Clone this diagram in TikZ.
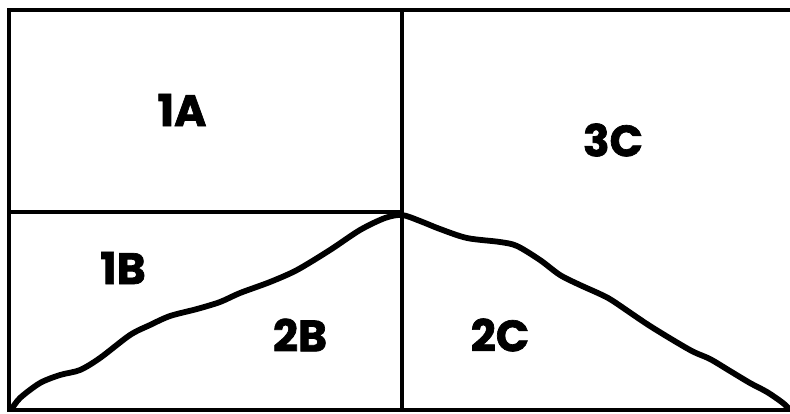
\documentclass[tikz,border=0pt]{standalone}
\usepackage{fontspec}
\setmainfont{Poppins}
\newfontfamily\zonefont{Poppins}[BoldFeatures={FakeBold=1.6}]
\begin{document}
\begin{tikzpicture}[x=0.02cm,y=-0.02cm,line width=2.3pt]
  \tikzset{zone/.style={font=\zonefont\bfseries\fontsize{25}{25}\selectfont}}
  \useasboundingbox (0,0) rectangle (790,413);
  \draw (790,10) -- (9,10) -- (9,410) -- (790,410);
  \draw (9,212) -- (402,212);
  \draw (402,10) -- (402,410);
  \draw[line width=3.3pt,line join=round] plot[smooth] coordinates {
    (11,410) (20,398) (40,383) (60,375) (80,370) (100,358) (130,335)
    (150,325) (170,316) (197,309) (220,302) (240,293) (270,282) (297,270)
    (330,250) (360,230) (385,218) (402,215) (420,221) (440,229) (467,238)
    (500,242) (517,246) (540,260) (560,275) (580,285) (600,294) (613,301)
    (650,326) (690,350) (710,359) (730,371) (750,383) (767,392) (783,403)
    (790,410)};
  \node[zone] (z1a) at (182,110) {1A};
  \node[zone] (z3c) at (613,140) {3C};
  \node[zone] (z1b) at (123,268) {1B};
  \node[zone] (z2b) at (300,335) {2B};
  \node[zone] (z2c) at (500,335) {2C};
\end{tikzpicture}
\end{document}
